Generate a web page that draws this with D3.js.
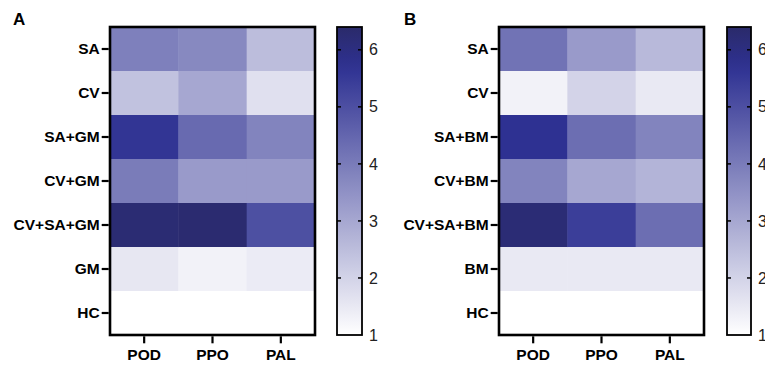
<!DOCTYPE html>
<html><head><meta charset="utf-8">
<script src="https://cdn.jsdelivr.net/npm/d3@7"></script>
<style>
html,body{margin:0;padding:0;background:#fff;}
svg{display:block;font-family:"Liberation Sans",Arial,sans-serif;}
</style></head>
<body><svg id="chart" width="765" height="367"></svg>
<script>
const columns = ["POD", "PPO", "PAL"];
const rowsA = ["SA", "CV", "SA+GM", "CV+GM", "CV+SA+GM", "GM", "HC"];
const valuesA = [
  [3.9, 3.7, 2.5],
  [2.4, 3.0, 1.7],
  [5.6, 4.4, 3.8],
  [4.0, 3.3, 3.3],
  [6.25, 6.3, 5.0],
  [1.55, 1.3, 1.45],
  [1.0, 1.0, 1.0]
];
const rowsB = ["SA", "CV", "SA+BM", "CV+BM", "CV+SA+BM", "BM", "HC"];
const valuesB = [
  [4.2, 3.3, 2.6],
  [1.3, 2.0, 1.5],
  [5.7, 4.3, 3.8],
  [3.8, 3.0, 2.7],
  [6.2, 5.4, 4.3],
  [1.5, 1.5, 1.5],
  [1.0, 1.0, 1.0]
];
const colorTicks = [1, 2, 3, 4, 5, 6];
const colorMin = 1, colorMax = 6.4;
const panelLabels = ["A", "B"];

const svg = d3.select("#chart");
const color = d3.scaleLinear()
  .domain([1, 5.7, 6.4])
  .range(["#ffffff", "#2e3192", "#2a2a6a"])
  .interpolate(d3.interpolateRgb)
  .clamp(true);

const defs = svg.append("defs");
const grad = defs.append("linearGradient").attr("id", "cbgrad")
  .attr("x1", 0).attr("y1", 1).attr("x2", 0).attr("y2", 0);
d3.range(0, 1.0001, 0.05).forEach(t => {
  const v = colorMin + t * (colorMax - colorMin);
  grad.append("stop").attr("offset", t).attr("stop-color", color(v));
});

function panel(cfg) {
  const {rows, values, left, right, top, bottom, cbLeft, cbRight, label, labelX} = cfg;
  const g = svg.append("g");
  const x = d3.scaleBand().domain(columns).range([left, right]).padding(0);
  const y = d3.scaleBand().domain(rows).range([top, bottom]).padding(0);

  rows.forEach((r, i) => {
    columns.forEach((c, j) => {
      g.append("rect")
        .attr("x", x(c)).attr("y", y(r))
        .attr("width", x.bandwidth() + 0.5).attr("height", y.bandwidth() + 0.5)
        .attr("fill", color(values[i][j]));
    });
  });

  g.append("rect").attr("x", left).attr("y", top)
    .attr("width", right - left).attr("height", bottom - top)
    .attr("fill", "none").attr("stroke", "#000").attr("stroke-width", 2.6);

  const ya = g.append("g").attr("transform", `translate(${left - 1.3},0)`)
    .call(d3.axisLeft(y).tickSize(7).tickPadding(2));
  ya.select(".domain").remove();
  ya.selectAll("line").attr("stroke", "#000").attr("stroke-width", 2.2);
  ya.selectAll("text").attr("font-size", 15.5).attr("font-weight", "bold")
    .attr("fill", "#000").attr("font-family", "Liberation Sans, Arial, sans-serif");

  const xa = g.append("g").attr("transform", `translate(0,${bottom + 1.3})`)
    .call(d3.axisBottom(x).tickSize(7).tickPadding(6));
  xa.select(".domain").remove();
  xa.selectAll("line").attr("stroke", "#000").attr("stroke-width", 2.2);
  xa.selectAll("text").attr("font-size", 15.5).attr("font-weight", "bold")
    .attr("fill", "#000").attr("font-family", "Liberation Sans, Arial, sans-serif");

  const cy = d3.scaleLinear().domain([colorMin, colorMax]).range([bottom, top]);
  g.append("rect").attr("x", cbLeft).attr("y", top)
    .attr("width", cbRight - cbLeft).attr("height", bottom - top)
    .attr("fill", "url(#cbgrad)").attr("stroke", "#000").attr("stroke-width", 1.8);
  colorTicks.filter(t => t > colorMin).forEach(t => {
    g.append("line").attr("x1", cbLeft).attr("x2", cbLeft + 4)
      .attr("y1", cy(t)).attr("y2", cy(t)).attr("stroke", "#000").attr("stroke-width", 1.5);
    g.append("line").attr("x1", cbRight - 4).attr("x2", cbRight)
      .attr("y1", cy(t)).attr("y2", cy(t)).attr("stroke", "#000").attr("stroke-width", 1.5);
  });
  const ca = g.append("g").attr("transform", `translate(${cbRight},0)`)
    .call(d3.axisRight(cy).tickValues(colorTicks).tickSize(0).tickPadding(7).tickFormat(d3.format("d")));
  ca.select(".domain").remove();
  ca.selectAll("text").attr("font-size", 16).attr("fill", "#222")
    .attr("font-family", "Liberation Sans, Arial, sans-serif");

  svg.append("text").attr("x", labelX).attr("y", 25).text(label)
    .attr("font-size", 17).attr("font-weight", "bold").attr("fill", "#000");
}

panel({rows: rowsA, values: valuesA, left: 110, right: 315, top: 27, bottom: 335,
  cbLeft: 337, cbRight: 362, label: panelLabels[0], labelX: 13});
panel({rows: rowsB, values: valuesB, left: 499, right: 704, top: 27, bottom: 335,
  cbLeft: 727, cbRight: 751, label: panelLabels[1], labelX: 404});
</script></body></html>
